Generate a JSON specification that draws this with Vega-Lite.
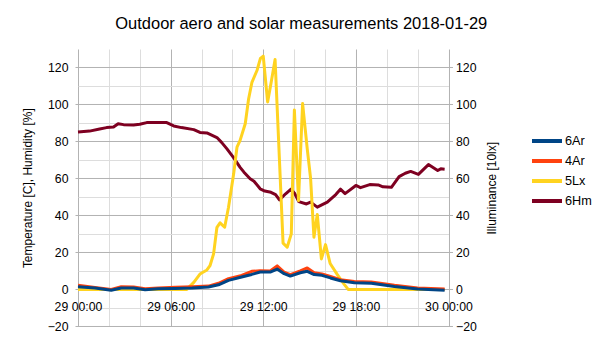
{
  "$schema": "https://vega.github.io/schema/vega-lite/v6.json",
  "width": 370.5,
  "height": 277.4,
  "padding": {"left": 21, "top": 15, "right": 0, "bottom": 0},
  "background": "white",
  "title": {"text": "Outdoor aero and solar measurements 2018-01-29", "fontSize": 16.5, "font": "Liberation Sans", "fontWeight": "normal", "color": "#000000", "anchor": "middle", "dx": 38, "offset": 16.8},
  "config": {
    "view": {"stroke": null},
    "font": "Liberation Sans",
    "axis": {"labelFont": "Liberation Sans", "titleFont": "Liberation Sans", "labelColor": "#000000", "titleColor": "#000000", "labelFontSize": 12.3, "titleFontSize": 12, "titleFontWeight": "normal"},
    "legend": {"labelFont": "Liberation Sans", "labelFontSize": 12.7, "labelColor": "#000000"}
  },
  "datasets": {
    "m": [
      {"t": "2018-01-29T00:00", "s": "6Hm", "v": 85.1},
      {"t": "2018-01-29T00:45", "s": "6Hm", "v": 85.6},
      {"t": "2018-01-29T01:24", "s": "6Hm", "v": 86.7},
      {"t": "2018-01-29T01:51", "s": "6Hm", "v": 87.5},
      {"t": "2018-01-29T02:18", "s": "6Hm", "v": 87.8},
      {"t": "2018-01-29T02:36", "s": "6Hm", "v": 89.6},
      {"t": "2018-01-29T02:57", "s": "6Hm", "v": 89.1},
      {"t": "2018-01-29T03:36", "s": "6Hm", "v": 88.9},
      {"t": "2018-01-29T04:00", "s": "6Hm", "v": 89.3},
      {"t": "2018-01-29T04:27", "s": "6Hm", "v": 90.2},
      {"t": "2018-01-29T05:45", "s": "6Hm", "v": 90.2},
      {"t": "2018-01-29T06:12", "s": "6Hm", "v": 88.4},
      {"t": "2018-01-29T06:42", "s": "6Hm", "v": 87.5},
      {"t": "2018-01-29T07:30", "s": "6Hm", "v": 86.4},
      {"t": "2018-01-29T07:54", "s": "6Hm", "v": 84.9},
      {"t": "2018-01-29T08:21", "s": "6Hm", "v": 84.6},
      {"t": "2018-01-29T09:00", "s": "6Hm", "v": 82.1},
      {"t": "2018-01-29T09:18", "s": "6Hm", "v": 79.5},
      {"t": "2018-01-29T09:39", "s": "6Hm", "v": 76.0},
      {"t": "2018-01-29T10:06", "s": "6Hm", "v": 71.0},
      {"t": "2018-01-29T10:30", "s": "6Hm", "v": 66.0},
      {"t": "2018-01-29T10:45", "s": "6Hm", "v": 63.4},
      {"t": "2018-01-29T11:09", "s": "6Hm", "v": 59.8},
      {"t": "2018-01-29T11:24", "s": "6Hm", "v": 58.5},
      {"t": "2018-01-29T11:48", "s": "6Hm", "v": 54.4},
      {"t": "2018-01-29T12:06", "s": "6Hm", "v": 53.2},
      {"t": "2018-01-29T12:30", "s": "6Hm", "v": 52.5},
      {"t": "2018-01-29T12:48", "s": "6Hm", "v": 51.3},
      {"t": "2018-01-29T13:03", "s": "6Hm", "v": 48.4},
      {"t": "2018-01-29T13:27", "s": "6Hm", "v": 51.7},
      {"t": "2018-01-29T13:48", "s": "6Hm", "v": 54.2},
      {"t": "2018-01-29T14:03", "s": "6Hm", "v": 51.7},
      {"t": "2018-01-29T14:18", "s": "6Hm", "v": 47.5},
      {"t": "2018-01-29T14:48", "s": "6Hm", "v": 46.2},
      {"t": "2018-01-29T15:04", "s": "6Hm", "v": 47.2},
      {"t": "2018-01-29T15:30", "s": "6Hm", "v": 44.5},
      {"t": "2018-01-29T16:09", "s": "6Hm", "v": 47.2},
      {"t": "2018-01-29T16:42", "s": "6Hm", "v": 51.3},
      {"t": "2018-01-29T17:00", "s": "6Hm", "v": 54.2},
      {"t": "2018-01-29T17:18", "s": "6Hm", "v": 51.8},
      {"t": "2018-01-29T18:00", "s": "6Hm", "v": 56.2},
      {"t": "2018-01-29T18:18", "s": "6Hm", "v": 55.0},
      {"t": "2018-01-29T18:54", "s": "6Hm", "v": 56.7},
      {"t": "2018-01-29T19:27", "s": "6Hm", "v": 56.5},
      {"t": "2018-01-29T19:45", "s": "6Hm", "v": 55.5},
      {"t": "2018-01-29T20:18", "s": "6Hm", "v": 55.2},
      {"t": "2018-01-29T20:48", "s": "6Hm", "v": 61.0},
      {"t": "2018-01-29T21:12", "s": "6Hm", "v": 62.8},
      {"t": "2018-01-29T21:33", "s": "6Hm", "v": 63.8},
      {"t": "2018-01-29T22:03", "s": "6Hm", "v": 62.2},
      {"t": "2018-01-29T22:42", "s": "6Hm", "v": 67.5},
      {"t": "2018-01-29T23:18", "s": "6Hm", "v": 64.3},
      {"t": "2018-01-29T23:30", "s": "6Hm", "v": 65.2},
      {"t": "2018-01-29T23:45", "s": "6Hm", "v": 65.0},

      {"t": "2018-01-29T00:00", "s": "5Lx", "v": 0},
      {"t": "2018-01-29T07:03", "s": "5Lx", "v": 0},
      {"t": "2018-01-29T07:30", "s": "5Lx", "v": 3.8},
      {"t": "2018-01-29T07:54", "s": "5Lx", "v": 8.3},
      {"t": "2018-01-29T08:21", "s": "5Lx", "v": 10.5},
      {"t": "2018-01-29T08:33", "s": "5Lx", "v": 12.8},
      {"t": "2018-01-29T08:47", "s": "5Lx", "v": 19.2},
      {"t": "2018-01-29T09:00", "s": "5Lx", "v": 33.6},
      {"t": "2018-01-29T09:12", "s": "5Lx", "v": 36.0},
      {"t": "2018-01-29T09:30", "s": "5Lx", "v": 33.6},
      {"t": "2018-01-29T09:45", "s": "5Lx", "v": 44.4},
      {"t": "2018-01-29T10:05", "s": "5Lx", "v": 62.5},
      {"t": "2018-01-29T10:18", "s": "5Lx", "v": 77.0},
      {"t": "2018-01-29T10:30", "s": "5Lx", "v": 80.6},
      {"t": "2018-01-29T10:50", "s": "5Lx", "v": 89.6},
      {"t": "2018-01-29T11:03", "s": "5Lx", "v": 103.0},
      {"t": "2018-01-29T11:16", "s": "5Lx", "v": 112.0},
      {"t": "2018-01-29T11:36", "s": "5Lx", "v": 118.5},
      {"t": "2018-01-29T11:49", "s": "5Lx", "v": 124.9},
      {"t": "2018-01-29T12:00", "s": "5Lx", "v": 126.1},
      {"t": "2018-01-29T12:17", "s": "5Lx", "v": 101.4},
      {"t": "2018-01-29T12:30", "s": "5Lx", "v": 111.3},
      {"t": "2018-01-29T12:46", "s": "5Lx", "v": 124.3},
      {"t": "2018-01-29T13:17", "s": "5Lx", "v": 25.0},
      {"t": "2018-01-29T13:33", "s": "5Lx", "v": 22.8},
      {"t": "2018-01-29T13:49", "s": "5Lx", "v": 30.0},
      {"t": "2018-01-29T14:01", "s": "5Lx", "v": 97.0},
      {"t": "2018-01-29T14:17", "s": "5Lx", "v": 48.0},
      {"t": "2018-01-29T14:33", "s": "5Lx", "v": 100.5},
      {"t": "2018-01-29T14:51", "s": "5Lx", "v": 76.0},
      {"t": "2018-01-29T15:04", "s": "5Lx", "v": 60.0},
      {"t": "2018-01-29T15:17", "s": "5Lx", "v": 28.2},
      {"t": "2018-01-29T15:30", "s": "5Lx", "v": 40.5},
      {"t": "2018-01-29T15:46", "s": "5Lx", "v": 16.5},
      {"t": "2018-01-29T16:02", "s": "5Lx", "v": 24.2},
      {"t": "2018-01-29T16:20", "s": "5Lx", "v": 14.0},
      {"t": "2018-01-29T16:48", "s": "5Lx", "v": 8.0},
      {"t": "2018-01-29T17:14", "s": "5Lx", "v": 2.9},
      {"t": "2018-01-29T17:30", "s": "5Lx", "v": 0},
      {"t": "2018-01-29T23:45", "s": "5Lx", "v": 0},

      {"t": "2018-01-29T00:00", "s": "4Ar", "v": 2.2},
      {"t": "2018-01-29T01:06", "s": "4Ar", "v": 1.1},
      {"t": "2018-01-29T02:09", "s": "4Ar", "v": 0.0},
      {"t": "2018-01-29T02:48", "s": "4Ar", "v": 1.4},
      {"t": "2018-01-29T03:36", "s": "4Ar", "v": 1.3},
      {"t": "2018-01-29T04:21", "s": "4Ar", "v": 0.4},
      {"t": "2018-01-29T05:12", "s": "4Ar", "v": 0.8},
      {"t": "2018-01-29T06:18", "s": "4Ar", "v": 1.1},
      {"t": "2018-01-29T07:24", "s": "4Ar", "v": 1.4},
      {"t": "2018-01-29T08:27", "s": "4Ar", "v": 1.8},
      {"t": "2018-01-29T09:06", "s": "4Ar", "v": 3.3},
      {"t": "2018-01-29T09:45", "s": "4Ar", "v": 5.8},
      {"t": "2018-01-29T10:36", "s": "4Ar", "v": 7.6},
      {"t": "2018-01-29T11:15", "s": "4Ar", "v": 9.8},
      {"t": "2018-01-29T11:48", "s": "4Ar", "v": 10.1},
      {"t": "2018-01-29T12:27", "s": "4Ar", "v": 10.0},
      {"t": "2018-01-29T12:54", "s": "4Ar", "v": 12.7},
      {"t": "2018-01-29T13:21", "s": "4Ar", "v": 9.4},
      {"t": "2018-01-29T13:45", "s": "4Ar", "v": 8.0},
      {"t": "2018-01-29T14:24", "s": "4Ar", "v": 10.0},
      {"t": "2018-01-29T14:51", "s": "4Ar", "v": 11.6},
      {"t": "2018-01-29T15:18", "s": "4Ar", "v": 9.0},
      {"t": "2018-01-29T15:48", "s": "4Ar", "v": 8.4},
      {"t": "2018-01-29T16:21", "s": "4Ar", "v": 7.0},
      {"t": "2018-01-29T17:00", "s": "4Ar", "v": 5.2},
      {"t": "2018-01-29T17:54", "s": "4Ar", "v": 4.3},
      {"t": "2018-01-29T19:00", "s": "4Ar", "v": 4.0},
      {"t": "2018-01-29T20:30", "s": "4Ar", "v": 2.2},
      {"t": "2018-01-29T22:00", "s": "4Ar", "v": 0.8},
      {"t": "2018-01-29T23:45", "s": "4Ar", "v": 0.2},

      {"t": "2018-01-29T00:00", "s": "6Ar", "v": 1.5},
      {"t": "2018-01-29T01:06", "s": "6Ar", "v": 0.8},
      {"t": "2018-01-29T02:09", "s": "6Ar", "v": -0.5},
      {"t": "2018-01-29T02:48", "s": "6Ar", "v": 0.8},
      {"t": "2018-01-29T03:36", "s": "6Ar", "v": 0.8},
      {"t": "2018-01-29T04:21", "s": "6Ar", "v": -0.2},
      {"t": "2018-01-29T05:12", "s": "6Ar", "v": 0.3},
      {"t": "2018-01-29T06:18", "s": "6Ar", "v": 0.5},
      {"t": "2018-01-29T07:24", "s": "6Ar", "v": 0.8},
      {"t": "2018-01-29T08:27", "s": "6Ar", "v": 1.3},
      {"t": "2018-01-29T09:06", "s": "6Ar", "v": 2.5},
      {"t": "2018-01-29T09:45", "s": "6Ar", "v": 4.9},
      {"t": "2018-01-29T10:36", "s": "6Ar", "v": 6.7},
      {"t": "2018-01-29T11:15", "s": "6Ar", "v": 8.1},
      {"t": "2018-01-29T11:48", "s": "6Ar", "v": 9.4},
      {"t": "2018-01-29T12:27", "s": "6Ar", "v": 9.4},
      {"t": "2018-01-29T12:54", "s": "6Ar", "v": 11.0},
      {"t": "2018-01-29T13:21", "s": "6Ar", "v": 8.5},
      {"t": "2018-01-29T13:45", "s": "6Ar", "v": 7.2},
      {"t": "2018-01-29T14:24", "s": "6Ar", "v": 9.0},
      {"t": "2018-01-29T14:51", "s": "6Ar", "v": 9.8},
      {"t": "2018-01-29T15:18", "s": "6Ar", "v": 8.0},
      {"t": "2018-01-29T15:48", "s": "6Ar", "v": 7.6},
      {"t": "2018-01-29T16:21", "s": "6Ar", "v": 6.2},
      {"t": "2018-01-29T17:00", "s": "6Ar", "v": 4.7},
      {"t": "2018-01-29T17:54", "s": "6Ar", "v": 3.6},
      {"t": "2018-01-29T19:00", "s": "6Ar", "v": 3.3},
      {"t": "2018-01-29T20:30", "s": "6Ar", "v": 1.6},
      {"t": "2018-01-29T22:00", "s": "6Ar", "v": 0.2},
      {"t": "2018-01-29T23:45", "s": "6Ar", "v": -0.5}
    ]
  },
  "data": {"name": "m"},
  "layer": [
    {
      "transform": [{"filter": "datum.s === '6Hm'"}],
      "mark": {"type": "line", "strokeWidth": 3, "strokeJoin": "round"},
      "encoding": {
        "x": {"field": "t", "type": "temporal",
          "scale": {"domain": [{"year": 2018, "month": 1, "date": 29, "hours": 0}, {"year": 2018, "month": 1, "date": 30, "hours": 0}]},
          "axis": {"orient": "bottom", "offset": -37, "format": "%d %H:%M", "title": null, "grid": false, "ticks": false, "domain": false, "labelPadding": 11, "labelFlush": false, "labelOverlap": false,
            "values": [{"year": 2018, "month": 1, "date": 29, "hours": 0}, {"year": 2018, "month": 1, "date": 29, "hours": 6}, {"year": 2018, "month": 1, "date": 29, "hours": 12}, {"year": 2018, "month": 1, "date": 29, "hours": 18}, {"year": 2018, "month": 1, "date": 30, "hours": 0}]}},
        "y": {"field": "v", "type": "quantitative", "scale": {"domain": [-20, 130], "nice": false, "zero": false},
          "axis": {"orient": "left", "values": [-20, 0, 20, 40, 60, 80, 100, 120], "grid": true, "gridColor": "#b3b3b3", "gridWidth": 1, "domain": false, "ticks": true, "tickColor": "#b3b3b3", "tickSize": 3, "labelPadding": 7, "title": "Temperature [C], Humidity [%]", "titlePadding": 13}},
        "color": {"datum": "6Hm", "type": "nominal",
          "scale": {"domain": ["6Ar", "4Ar", "5Lx", "6Hm"], "range": ["#004586", "#ff420e", "#ffd320", "#7e0021"]},
          "legend": {"title": null, "orient": "none", "legendX": 457, "legendY": 80, "symbolType": "M-1.5,0H1.5", "symbolSize": 400, "symbolStrokeWidth": 4, "rowPadding": -0.5, "labelOffset": 6, "padding": 0}}
      }
    },
    {
      "transform": [{"filter": "datum.s === '5Lx'"}],
      "mark": {"type": "line", "strokeWidth": 3, "strokeJoin": "round"},
      "encoding": {
        "x": {"field": "t", "type": "temporal",
          "axis": {"orient": "bottom", "title": null, "labels": false, "ticks": false, "domain": false, "grid": true, "gridColor": "#b3b3b3", "gridWidth": 1,
            "values": [{"year": 2018, "month": 1, "date": 29, "hours": 0}, {"year": 2018, "month": 1, "date": 29, "hours": 6}, {"year": 2018, "month": 1, "date": 29, "hours": 12}, {"year": 2018, "month": 1, "date": 29, "hours": 18}, {"year": 2018, "month": 1, "date": 30, "hours": 0}]}},
        "y": {"field": "v", "type": "quantitative", "scale": {"domain": [-20, 130], "nice": false, "zero": false},
          "axis": {"orient": "right", "values": [-20, 0, 20, 40, 60, 80, 100, 120], "grid": false, "domain": false, "ticks": true, "tickColor": "#b3b3b3", "tickSize": 4, "labelPadding": 3, "title": "Illuminance [10lx]", "titleAngle": 270, "titlePadding": 22}},
        "color": {"datum": "5Lx", "type": "nominal"}
      }
    },
    {
      "transform": [{"filter": "datum.s === '4Ar'"}],
      "mark": {"type": "line", "strokeWidth": 3, "strokeJoin": "round"},
      "encoding": {
        "x": {"field": "t", "type": "temporal",
          "axis": {"orient": "bottom", "title": null, "labels": false, "ticks": false, "domain": false, "grid": true, "gridColor": "#dddddd", "gridWidth": 1,
            "values": [{"year": 2018, "month": 1, "date": 29, "hours": 2}, {"year": 2018, "month": 1, "date": 29, "hours": 4}, {"year": 2018, "month": 1, "date": 29, "hours": 8}, {"year": 2018, "month": 1, "date": 29, "hours": 10}, {"year": 2018, "month": 1, "date": 29, "hours": 14}, {"year": 2018, "month": 1, "date": 29, "hours": 16}, {"year": 2018, "month": 1, "date": 29, "hours": 20}, {"year": 2018, "month": 1, "date": 29, "hours": 22}]}},
        "y": {"field": "v", "type": "quantitative", "scale": {"domain": [-20, 130], "nice": false, "zero": false},
          "axis": {"orient": "left", "values": [-10, 10, 30, 50, 70, 90, 110], "grid": true, "gridColor": "#dddddd", "gridWidth": 1, "domain": false, "ticks": false, "labels": false, "title": null}},
        "color": {"datum": "4Ar", "type": "nominal"}
      }
    },
    {
      "transform": [{"filter": "datum.s === '6Ar'"}],
      "mark": {"type": "line", "strokeWidth": 3, "strokeJoin": "round"},
      "encoding": {
        "x": {"field": "t", "type": "temporal", "axis": null},
        "y": {"field": "v", "type": "quantitative", "scale": {"domain": [-20, 130], "nice": false, "zero": false}, "axis": null},
        "color": {"datum": "6Ar", "type": "nominal"}
      }
    }
  ],
  "resolve": {"scale": {"x": "shared", "y": "independent", "color": "shared"}, "axis": {"x": "independent", "y": "independent"}}
}
